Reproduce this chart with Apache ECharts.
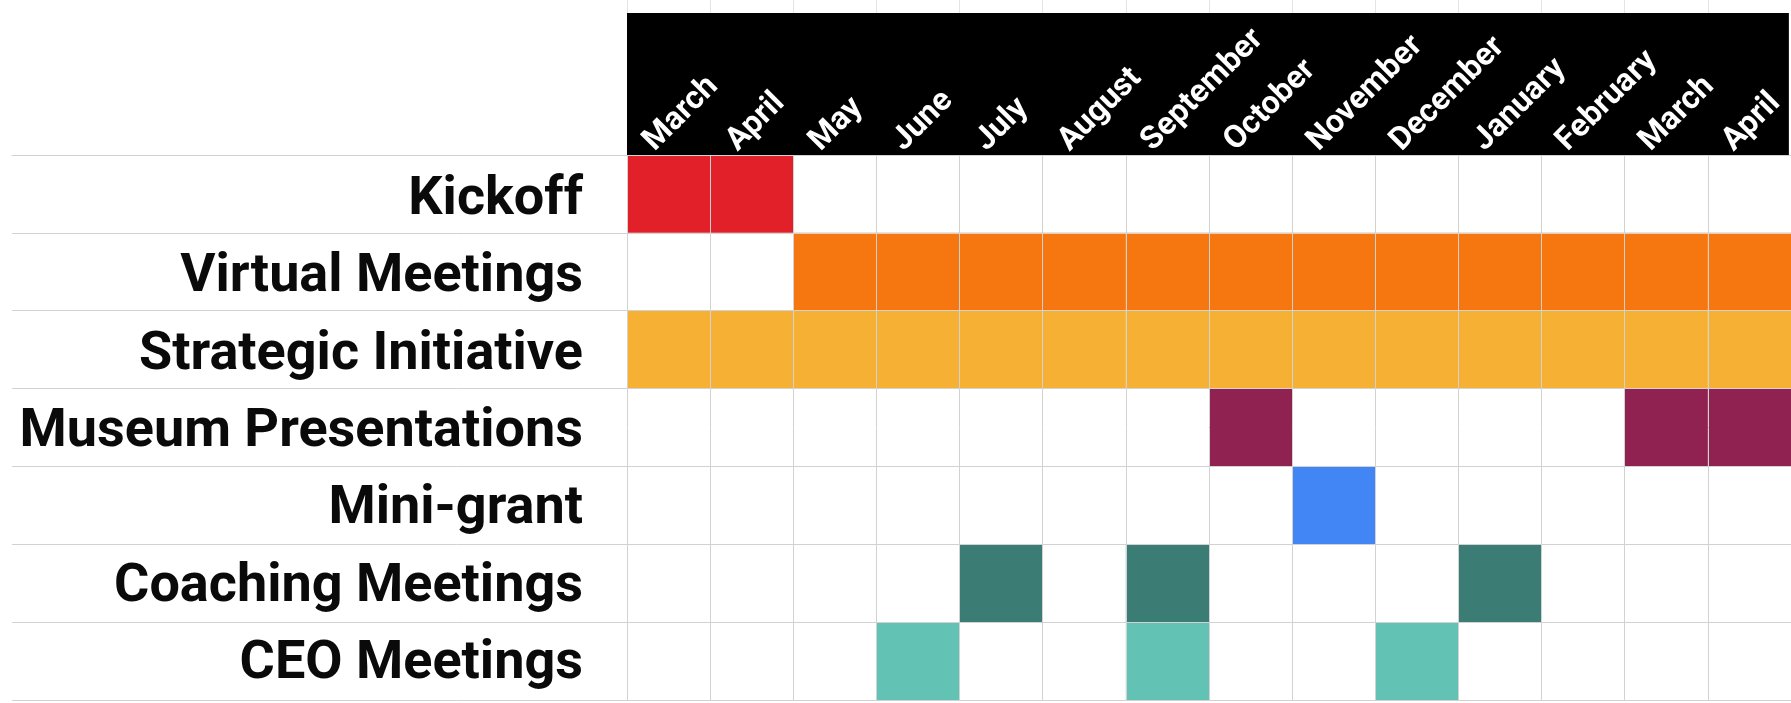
<!DOCTYPE html>
<html>
<head>
<meta charset="utf-8">
<script src="https://cdn.jsdelivr.net/npm/echarts@6/dist/echarts.min.js"></script>
<style>
  html, body { margin: 0; padding: 0; background: #fff; }
  #chart { width: 1791px; height: 703px; }
</style>
</head>
<body>
<div id="chart"></div>
<script>
// month columns (two years, March -> April)
const months = ['March', 'April', 'May', 'June', 'July', 'August', 'September',
  'October', 'November', 'December', 'January', 'February', 'March', 'April']

const tasks = ['Kickoff', 'Virtual Meetings', 'Strategic Initiative',
  'Museum Presentations', 'Mini-grant', 'Coaching Meetings', 'CEO Meetings']

// 1 = active in that month
const kickoff     = [1, 1, 0, 0, 0, 0, 0, 0, 0, 0, 0, 0, 0, 0]
const virtual     = [0, 0, 1, 1, 1, 1, 1, 1, 1, 1, 1, 1, 1, 1]
const strategic   = [1, 1, 1, 1, 1, 1, 1, 1, 1, 1, 1, 1, 1, 1]
const museum      = [0, 0, 0, 0, 0, 0, 0, 1, 0, 0, 0, 0, 1, 1]
const miniGrant   = [0, 0, 0, 0, 0, 0, 0, 0, 1, 0, 0, 0, 0, 0]
const coaching    = [0, 0, 0, 0, 1, 0, 1, 0, 0, 0, 1, 0, 0, 0]
const ceo         = [0, 0, 0, 1, 0, 0, 1, 0, 0, 1, 0, 0, 0, 0]

const taskFlags = [kickoff, virtual, strategic, museum, miniGrant, coaching, ceo]
const taskColors = ['#e1202a', '#f6770f', '#f6b033', '#8f2251', '#4285f4', '#3b7c75', '#62c3b5']

const gridColor = '#d2d2d2'
const chart = echarts.init(document.getElementById('chart'))

const renderCell = (params, api) => {
  const c = api.coord([api.value(0), api.value(1)])
  const s = api.size([1, 1])
  return {
    type: 'rect',
    shape: { x: c[0] - s[0] / 2, y: c[1] - s[1] / 2, width: s[0], height: s[1] },
    style: { fill: api.visual('color') }
  }
}

const series = tasks.map((name, t) => ({
  name: name,
  type: 'custom',
  xAxisIndex: 3,
  yAxisIndex: 3,
  z: -1,
  color: taskColors[t],
  renderItem: renderCell,
  data: taskFlags[t].map((f, m) => (f ? [m, t] : null)).filter((d) => d)
}))

const hidden = { show: false }
const split = { show: true, lineStyle: { color: gridColor, width: 1 } }

chart.setOption({
  animation: false,
  grid: [
    // row lines across the whole sheet
    { left: 12, right: 0, top: 155, bottom: 3 },
    // top border of the header row
    { left: 12, right: 0, top: 13, height: 142 },
    // black month header
    { left: 627, right: 0, top: 13, height: 142, show: true, backgroundColor: '#000', borderWidth: 0 },
    // cells
    { left: 627, right: 0, top: 155, bottom: 3 },
    // task names, sitting a bit low in their rows like the sheet
    { left: 627, right: 0, top: 162, bottom: -4 },
    // sliver of the sheet above the header
    { left: 627, right: 0, top: 0, height: 13 }
  ],
  xAxis: [
    { gridIndex: 0, type: 'category', data: [''], ...hidden },
    {
      gridIndex: 1, type: 'category', data: [''], position: 'top',
      axisLine: { lineStyle: { color: gridColor, width: 1 } },
      axisTick: hidden, axisLabel: hidden
    },
    {
      gridIndex: 2, type: 'category', data: months.concat(['']), boundaryGap: false,
      position: 'bottom',
      axisLine: hidden, axisTick: hidden,
      axisLabel: {
        inside: true,
        interval: 0,
        rotate: 45,
        margin: -13,
        padding: [0, 0, 0, 31],
        color: '#fff',
        fontFamily: 'Roboto',
        fontWeight: 'bold',
        fontSize: 32
      }
    },
    {
      gridIndex: 3, type: 'category', data: months, position: 'top',
      axisLine: hidden, axisTick: hidden, axisLabel: hidden,
      splitLine: split
    },
    { gridIndex: 4, type: 'category', data: months, ...hidden },
    {
      gridIndex: 5, type: 'category', data: months,
      axisLine: hidden, axisTick: hidden, axisLabel: hidden,
      splitLine: { show: true, lineStyle: { color: '#e4e4e4', width: 1 } }
    }
  ],
  yAxis: [
    {
      gridIndex: 0, type: 'category', data: tasks, inverse: true,
      axisLine: hidden, axisTick: hidden, axisLabel: hidden,
      splitLine: split
    },
    { gridIndex: 1, type: 'value', ...hidden },
    { gridIndex: 2, type: 'value', ...hidden },
    {
      gridIndex: 3, type: 'category', data: tasks, inverse: true,
      axisLine: hidden, axisTick: hidden, axisLabel: hidden,
      splitLine: split
    },
    {
      gridIndex: 4, type: 'category', data: tasks, inverse: true,
      axisLine: hidden, axisTick: hidden,
      axisLabel: {
        margin: 44,
        color: '#0a0a0a',
        fontFamily: 'Roboto',
        fontWeight: 'bold',
        fontSize: 54
      }
    },
    { gridIndex: 5, type: 'value', ...hidden }
  ],
  series: series
})
</script>
</body>
</html>
